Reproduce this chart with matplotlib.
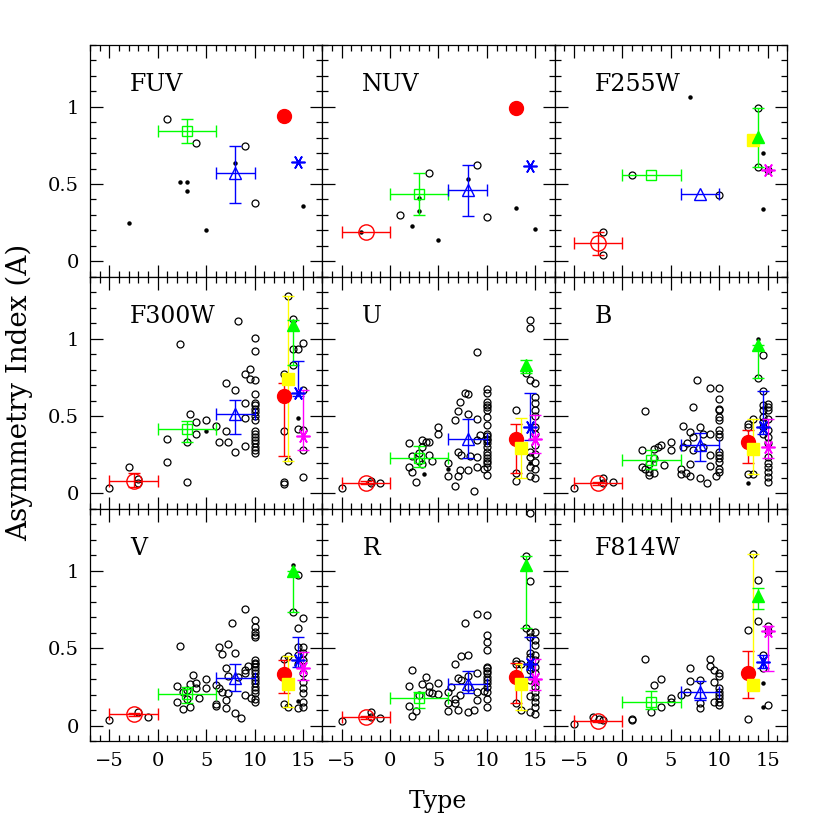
import matplotlib
matplotlib.use('Agg')
import matplotlib.pyplot as plt
from matplotlib.ticker import MultipleLocator, FormatStrFormatter

plt.rcParams['font.family'] = 'DejaVu Serif'

bands = ['FUV', 'NUV', 'F255W', 'F300W', 'U', 'B', 'V', 'R', 'F814W']

# binned Hubble types: ellipticals, early spirals, late spirals
bin_x = [-2.5, 3, 8]
bin_lo = [-5, 0, 6]
bin_hi = [0, 6, 10]

ell_y = [None, 0.187, 0.119, 0.081, 0.069, 0.065, 0.072, 0.053, 0.029]
ell_lo = [None, None, 0.043, 0.043, 0.058, 0.054, 0.061, 0.044, 0.020]
ell_hi = [None, None, 0.190, 0.135, 0.080, 0.076, 0.083, 0.062, 0.038]

early_y = [0.845, 0.437, 0.559, 0.417, 0.230, 0.219, 0.203, 0.180, 0.154]
early_lo = [0.763, 0.301, None, 0.333, 0.172, 0.161, 0.143, 0.111, 0.104]
early_hi = [0.920, 0.570, None, 0.468, 0.307, 0.280, 0.250, 0.218, 0.225]

late_y = [0.570, 0.458, 0.437, 0.512, 0.355, 0.312, 0.305, 0.268, 0.218]
late_lo = [0.379, 0.290, None, 0.383, 0.226, 0.211, 0.225, 0.212, 0.165]
late_hi = [0.745, 0.624, None, 0.602, 0.484, 0.391, 0.397, 0.354, 0.289]

# peculiar / merger samples
pec_x = [13, 13.5, 14, 14.5, 15]

red_y = [0.942, 0.994, None, 0.632, 0.355, 0.333, 0.333, 0.311, 0.337]
red_lo = [None, None, None, 0.241, 0.135, 0.194, 0.208, 0.147, 0.180]
red_hi = [None, None, None, 0.714, 0.452, 0.409, 0.423, 0.405, 0.483]

yel_y = [None, None, 0.785, 0.737, 0.295, 0.290, 0.268, 0.268, 0.259]
yel_lo = [None, None, None, 0.208, 0.101, 0.125, 0.122, 0.100, 0.259]
yel_hi = [None, None, None, 1.275, 0.490, 0.480, 0.449, 0.397, 1.111]

grn_y = [None, None, 0.806, 1.090, 0.832, 0.957, 0.997, 1.036, 0.838]
grn_lo = [None, None, 0.609, 0.832, 0.781, 0.748, 0.735, 0.633, 0.756]
grn_hi = [None, None, 0.990, 1.123, 0.860, 0.957, 0.997, 1.094, 0.889]

blu_y = [0.641, 0.617, None, 0.649, 0.430, 0.430, 0.423, 0.401, 0.412]
blu_lo = [None, None, None, 0.630, 0.344, 0.383, 0.380, 0.315, 0.369]
blu_hi = [None, None, None, 0.858, 0.647, 0.662, 0.573, 0.573, 0.455]

mag_y = [None, None, 0.592, 0.370, 0.355, 0.301, 0.369, 0.304, 0.612]
mag_lo = [None, None, None, 0.280, 0.262, 0.232, 0.294, 0.229, 0.352]
mag_hi = [None, None, None, 0.667, 0.505, 0.484, 0.477, 0.427, 0.644]

# individual galaxies (type, A): open circles and small dots
circ_FUV = [(1, 0.919), (4, 0.764), (9, 0.745), (10, 0.379)]
dot_FUV = [(-3, 0.25), (2.3, 0.512), (3, 0.516), (3, 0.456), (5, 0.2), (8, 0.635), (15, 0.355)]

circ_NUV = [(1, 0.299), (4, 0.570), (9, 0.624), (10, 0.286)]
dot_NUV = [(-3, 0.187), (2.3, 0.228), (3, 0.41), (3, 0.323), (5, 0.135), (8, 0.534), (13, 0.348), (15, 0.209)]

circ_F255W = [(-2, 0.19), (-2, 0.043), (1, 0.559), (10, 0.428), (14, 0.99), (14, 0.609), (15, 0.592)]
dot_F255W = [(7, 1.06), (14.5, 0.70), (14.5, 0.338)]

circ_F300W = [(-5, 0.036), (-3, 0.172), (-2, 0.092), (-2, 0.065), (1, 0.355), (1, 0.206),
              (2.3, 0.968), (3.3, 0.512), (3, 0.333), (3, 0.075), (4, 0.462), (4, 0.387),
              (5, 0.473), (6, 0.439), (6.3, 0.331), (7, 0.712), (7, 0.404), (7.3, 0.333),
              (8, 0.666), (8, 0.268), (8.3, 1.114), (9, 0.774), (9, 0.587), (9, 0.488),
              (9, 0.307), (9.5, 0.802), (9.5, 0.742), (10, 1.004), (10, 0.922), (10, 0.731),
              (10, 0.641)] + \
             [(10, y) for y in (0.587, 0.57, 0.548, 0.527, 0.5, 0.473, 0.404, 0.387, 0.366,
                                0.344, 0.323, 0.301, 0.28, 0.262)] + \
             [(13, 0.772), (13, 0.404), (13, 0.077), (13, 0.06), (13.5, 1.275), (13.5, 0.208),
              (14, 1.13), (14, 0.931), (14, 0.832), (14.5, 0.931), (14.5, 0.419),
              (15, 0.97), (15, 0.667), (15, 0.412), (15, 0.28), (15, 0.105)]
dot_F300W = [(5, 0.404), (14.5, 0.486)]

circ_U = [(-5, 0.037), (-2, 0.082), (-2, 0.065), (-1, 0.069),
          (2, 0.327), (2, 0.168), (2.3, 0.241), (2.3, 0.14), (2.7, 0.071), (3, 0.262),
          (3, 0.211), (3.3, 0.344), (3.3, 0.301), (3.3, 0.189), (3.7, 0.333), (4, 0.333),
          (4, 0.247), (4.3, 0.211), (5, 0.43), (5, 0.383), (6, 0.198), (6, 0.116),
          (6.7, 0.049), (7, 0.269), (7, 0.112), (7, 0.531), (7.2, 0.591), (6.7, 0.473),
          (7.3, 0.247), (7.7, 0.649), (8, 0.645), (8, 0.516), (8, 0.151), (7.2, 0.151),
          (8.3, 0.241), (8.7, 0.015), (9, 0.916), (9, 0.484), (9, 0.344), (9, 0.237),
          (9, 0.168), (9.7, 0.155), (9.3, 0.376)] + \
         [(10, y) for y in (0.673, 0.649, 0.591, 0.570, 0.559, 0.542, 0.495, 0.441, 0.387,
                            0.370, 0.355, 0.344, 0.323, 0.301, 0.269, 0.247, 0.226, 0.211,
                            0.194, 0.172, 0.118)] + \
         [(13, 0.538), (13, 0.135), (13, 0.082), (14, 0.781),
          (14.5, 1.123), (14.5, 1.071), (14.5, 0.731), (14.5, 0.269), (14.5, 0.237),
          (14.5, 0.172), (14.5, 0.114)] + \
         [(15, y) for y in (0.714, 0.624, 0.585, 0.538, 0.499, 0.43, 0.387, 0.312, 0.258,
                            0.204, 0.161, 0.103)]
dot_U = [(6, 0.155), (3.5, 0.125), (14.5, 0.194)]

circ_B = [(-5, 0.037), (-2, 0.097), (-2, 0.065), (-1, 0.071),
          (2, 0.28), (2, 0.172), (2.3, 0.533), (2.3, 0.155), (2.7, 0.14), (2.7, 0.118),
          (2.7, 0.189), (3.3, 0.29), (3.3, 0.232), (3.3, 0.133), (3.7, 0.301), (4, 0.312),
          (4.3, 0.183), (5, 0.333), (5, 0.284), (6, 0.155), (6, 0.125), (6.3, 0.301),
          (6.3, 0.434), (6.6, 0.133), (6.7, 0.327), (7, 0.112), (7, 0.398), (7, 0.189),
          (7.3, 0.559), (7.3, 0.366), (7.3, 0.28), (7.7, 0.731), (8, 0.43), (8, 0.101),
          (8.3, 0.387), (8.3, 0.301), (8.7, 0.065), (9, 0.684), (9, 0.387), (9, 0.247),
          (9, 0.178), (9.7, 0.114)] + \
         [(10, y) for y in (0.684, 0.613, 0.548, 0.538, 0.495, 0.473, 0.409, 0.387, 0.366,
                            0.269, 0.247, 0.226, 0.204, 0.155, 0.140)] + \
         [(13, 0.447), (13, 0.43), (13, 0.125), (13.5, 0.48), (13.5, 0.125), (14, 0.748)] + \
         [(14.5, y) for y in (0.892, 0.662, 0.57, 0.538, 0.495, 0.462, 0.43, 0.387)] + \
         [(15, y) for y in (0.581, 0.559, 0.538, 0.484, 0.409, 0.366, 0.323, 0.237, 0.194,
                            0.172, 0.140, 0.108, 0.075)]
dot_B = [(13, 0.069), (14, 0.996)]

circ_V = [(-5, 0.035), (-2, 0.089), (-1, 0.055),
          (2, 0.257), (2, 0.154), (2.3, 0.513), (2.6, 0.219), (2.6, 0.104), (3, 0.229),
          (3, 0.169), (3.3, 0.266), (3.3, 0.117), (3.6, 0.326), (4, 0.276), (4, 0.244),
          (4.3, 0.175), (5, 0.298), (5, 0.244), (6, 0.261), (6, 0.139), (6, 0.128),
          (6.3, 0.509), (6.3, 0.244), (6.6, 0.219), (6.6, 0.461), (7, 0.373), (7, 0.165),
          (7, 0.111), (7.3, 0.524), (7.3, 0.32), (7.3, 0.208), (7.7, 0.666), (8, 0.472),
          (8, 0.083), (8.3, 0.315), (8.6, 0.046), (9, 0.756), (9, 0.358), (9, 0.337),
          (9, 0.197), (9.3, 0.385), (9.6, 0.175), (10, 0.68)] + \
         [(10, y) for y in (0.637, 0.605, 0.584, 0.573, 0.423, 0.405, 0.397, 0.380, 0.358,
                            0.337, 0.315, 0.294, 0.272, 0.251, 0.229, 0.212, 0.171, 0.154)] + \
         [(13, 0.139), (13, 0.43), (13.5, 0.449), (13.5, 0.122), (14, 0.735)] + \
         [(14.5, y) for y in (0.971, 0.631, 0.509, 0.455, 0.401, 0.111)] + \
         [(15, y) for y in (0.692, 0.509, 0.466, 0.423, 0.337, 0.283, 0.24, 0.208, 0.154,
                            0.122)]
dot_V = [(14, 1.035), (14.5, 0.16)]

circ_R = [(-5, 0.029), (-2, 0.089), (-2, 0.053), (-1, 0.051),
          (2, 0.257), (2, 0.126), (2.3, 0.358), (2.3, 0.061), (2.7, 0.096), (3, 0.2),
          (3.3, 0.268), (3.7, 0.315), (4, 0.257), (4, 0.218), (4.3, 0.208), (5, 0.272),
          (5, 0.203), (6, 0.218), (6, 0.147), (6, 0.094), (6.3, 0.246), (6.7, 0.401),
          (6.7, 0.169), (6.7, 0.147), (7, 0.1), (7, 0.308), (7.3, 0.449), (7.3, 0.294),
          (7.7, 0.663), (8, 0.455), (8, 0.321), (8, 0.25), (8, 0.085), (7.2, 0.197),
          (8.7, 0.1), (9, 0.724), (9, 0.337), (9, 0.218), (9, 0.165), (9.7, 0.225)] + \
         [(10, y) for y in (0.713, 0.584, 0.541, 0.487, 0.380, 0.369, 0.354, 0.337, 0.315,
                            0.294, 0.272, 0.251, 0.218, 0.169, 0.122)] + \
         [(13, 0.418), (13, 0.401), (13, 0.147), (13.5, 0.397), (13.5, 0.1),
          (14, 1.094), (14, 0.633), (14.5, 1.373), (14.5, 0.934)] + \
         [(14.5, y) for y in (0.606, 0.573, 0.466, 0.444, 0.401, 0.380, 0.358, 0.294, 0.190,
                              0.089)] + \
         [(15, y) for y in (0.606, 0.552, 0.519, 0.455, 0.423, 0.380, 0.337, 0.283, 0.251,
                            0.218, 0.186, 0.154, 0.122, 0.074)]
dot_R = []

circ_F814W = [(-5, 0.01), (-3, 0.053), (-2, 0.035), (-2.4, 0.04),
              (1, 0.042), (1, 0.035), (2.3, 0.427), (3, 0.089), (3.3, 0.259), (4, 0.298),
              (4, 0.122), (5, 0.175), (5, 0.152), (6, 0.195), (6.7, 0.218), (7, 0.371),
              (7, 0.289), (8, 0.294), (8, 0.143), (8, 0.111), (9, 0.427), (9, 0.386),
              (9.5, 0.358), (9.5, 0.283), (9.5, 0.154)] + \
             [(10, y) for y in (0.337, 0.32, 0.24, 0.218, 0.197, 0.175, 0.154, 0.132)] + \
             [(13, 0.616), (13, 0.042), (13.5, 1.111), (14, 0.943), (14, 0.676),
              (14.5, 0.455), (14.5, 0.369), (15, 0.644), (15, 0.612), (15, 0.132)]
dot_F814W = [(14.5, 0.276), (14.5, 0.122)]

circles = {'FUV': circ_FUV, 'NUV': circ_NUV, 'F255W': circ_F255W, 'F300W': circ_F300W,
           'U': circ_U, 'B': circ_B, 'V': circ_V, 'R': circ_R, 'F814W': circ_F814W}
dots = {'FUV': dot_FUV, 'NUV': dot_NUV, 'F255W': dot_F255W, 'F300W': dot_F300W,
        'U': dot_U, 'B': dot_B, 'V': dot_V, 'R': dot_R, 'F814W': dot_F814W}

RED, GRN, BLU, YEL, MAG = '#ff0000', '#00ff00', '#0000ff', '#ffff00', '#ff00ff'
STAR = (6, 2, 30)


def draw_point(ax, x, y, lo, hi, color, marker, ms, filled, xlo=None, xhi=None):
    if y is None:
        return
    yerr = None
    if lo is not None:
        yerr = [[y - lo], [hi - y]]
    xerr = None
    if xlo is not None:
        xerr = [[x - xlo], [xhi - x]]
    if xerr is not None or yerr is not None:
        ax.errorbar([x], [y], xerr=xerr, yerr=yerr, fmt='none', ecolor=color,
                    elinewidth=1, capsize=4.5, capthick=1, zorder=3)
    if marker == STAR:
        ax.plot([x], [y], marker=marker, ms=ms, color=color, mew=1.2, ls='none', zorder=4)
    elif filled:
        ax.plot([x], [y], marker=marker, ms=ms, color=color, mec=color, ls='none', zorder=4)
    else:
        ax.plot([x], [y], marker=marker, ms=ms, mfc='none', mec=color, mew=1,
                ls='none', zorder=4)


fig = plt.figure(figsize=(8.3, 8.3), dpi=100)
axes = fig.subplots(3, 3, sharex=True, sharey=True)
plt.subplots_adjust(left=0.1084, right=0.9482, top=0.9461, bottom=0.1072,
                    wspace=0, hspace=0)

for i, band in enumerate(bands):
    ax = axes[i // 3][i % 3]

    pts = circles[band]
    if pts:
        ax.plot([p[0] for p in pts], [p[1] for p in pts], 'o', ms=5, mfc='none',
                mec='black', mew=0.9, zorder=2)
    pts = dots[band]
    if pts:
        ax.plot([p[0] for p in pts], [p[1] for p in pts], 'o', ms=2.2, color='black', zorder=2)

    draw_point(ax, bin_x[0], ell_y[i], ell_lo[i], ell_hi[i], RED, 'o', 11, False,
               bin_lo[0], bin_hi[0])
    draw_point(ax, bin_x[1], early_y[i], early_lo[i], early_hi[i], GRN, 's', 7, False,
               bin_lo[1], bin_hi[1])
    draw_point(ax, bin_x[2], late_y[i], late_lo[i], late_hi[i], BLU, '^', 8, False,
               bin_lo[2], bin_hi[2])

    draw_point(ax, pec_x[0], red_y[i], red_lo[i], red_hi[i], RED, 'o', 10, True)
    draw_point(ax, pec_x[1], yel_y[i], yel_lo[i], yel_hi[i], YEL, 's', 8, True)
    draw_point(ax, pec_x[2], grn_y[i], grn_lo[i], grn_hi[i], GRN, '^', 8.5, True)
    draw_point(ax, pec_x[3], blu_y[i], blu_lo[i], blu_hi[i], BLU, STAR, 10, True)
    draw_point(ax, pec_x[4], mag_y[i], mag_lo[i], mag_hi[i], MAG, STAR, 10, True)

    ax.text(0.172, 0.83, band, transform=ax.transAxes, fontsize=17, va='center', ha='left')

    ax.set_xlim(-7, 17)
    ax.set_ylim(-0.1, 1.4)
    ax.xaxis.set_major_locator(MultipleLocator(5))
    ax.xaxis.set_minor_locator(MultipleLocator(1))
    ax.yaxis.set_major_locator(MultipleLocator(0.5))
    ax.yaxis.set_minor_locator(MultipleLocator(0.1))
    ax.yaxis.set_major_formatter(FormatStrFormatter('%g'))
    ax.tick_params(which='both', direction='in', top=True, right=True, width=0.9,
                   labelsize=14)
    ax.tick_params(which='major', length=9, pad=8)
    ax.tick_params(which='minor', length=4.5)
    for s in ax.spines.values():
        s.set_linewidth(0.9)

fig.text(0.528, 0.034, 'Type', fontsize=17, ha='center', va='center')
fig.text(0.023, 0.5275, 'Asymmetry Index (A)', fontsize=20, rotation=90,
         ha='center', va='center')

fig.savefig('out.png', dpi=100)
